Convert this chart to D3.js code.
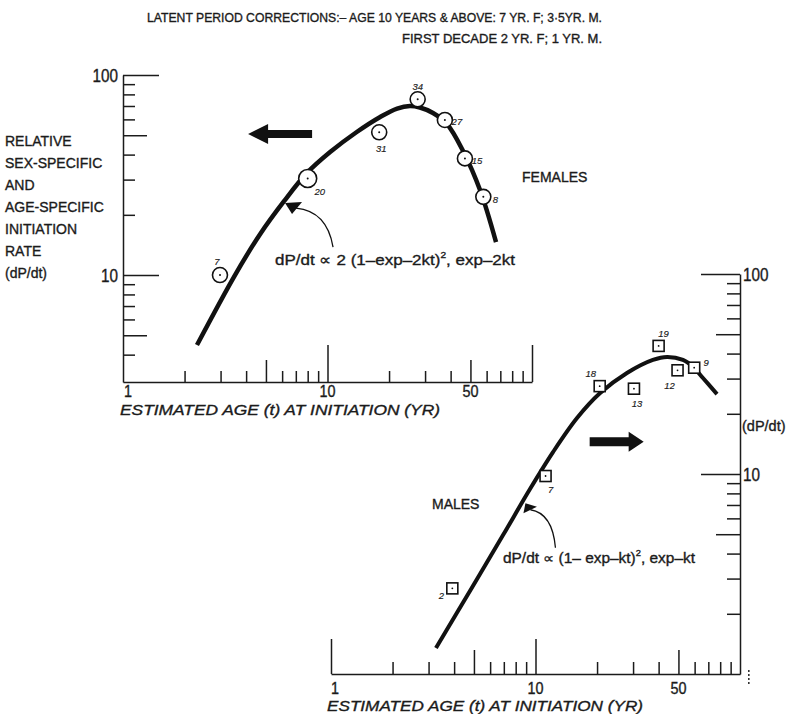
<!DOCTYPE html>
<meta charset="utf-8">
<script src="https://d3js.org/d3.v7.min.js"></script>
<style>
  body { margin: 0; background: #fff; }
  text { font-family: "Liberation Sans", Arial, sans-serif; fill: #1b1b1b; stroke: #1b1b1b; stroke-width: 0.35px; }
</style>
<div id="chart"></div>
<script>

// ---- data ----
// females (circles), number beside each circle = cases
var femaleAge  = [2.98, 8.0, 17.9, 27.6, 37.5, 47.0, 57.8];
var femaleRate = [10.0, 30.4, 51.7, 75.6, 59.6, 38.3, 24.6];
var femaleN    = [7, 20, 31, 34, 27, 15, 8];
// fitted female curve, traced
var femaleCurveAge  = [2.30, 3.53, 4.68, 6.13, 7.94, 10.3, 13.9, 18.1, 21.9, 25.3, 28.3, 32.8, 38.4, 46.0, 55.7, 66.7];
var femaleCurveRate = [4.47, 10.0, 16.0, 23.4, 32.4, 41.2, 51.9, 61.7, 68.0, 70.0, 68.8, 64.6, 56.9, 41.7, 26.6, 14.6];

// males (squares)
var maleAge  = [3.92, 11.2, 20.6, 30.3, 40.0, 49.5, 59.7];
var maleRate = [2.68, 9.77, 27.5, 26.7, 43.7, 33.0, 34.0];
var maleN    = [2, 7, 18, 13, 19, 12, 9];
var maleCurveAge  = [3.26, 4.78, 6.94, 9.40, 12.2, 15.96, 20.7, 28.0, 37.5, 44.0, 52.6, 58.9, 65.9, 77.2];
var maleCurveRate = [1.35, 2.60, 4.95, 8.41, 12.9, 19.05, 25.4, 32.0, 37.2, 38.5, 37.2, 34.4, 30.2, 25.1];

// log tick values
var xTickVals = [2, 3, 4, 5, 6, 7, 8, 9, 10, 20, 30, 40, 50, 60, 70, 80, 90, 100];
var yTickValsF = [4, 5, 6, 7, 8, 9, 10, 20, 30, 40, 50, 60, 70, 80, 90, 100];
var yTickValsM = [2, 3, 4, 5, 6, 7, 8, 9, 10, 20, 30, 40, 50, 60, 70, 80, 90, 100];
var xLabels = ["1", "10", "50"];
var yLabels = ["10", "100"];

// where the small case numbers sit relative to each marker
var femaleLabelDx = [-3, 12, 2, 0, 12, 12, 12];
var femaleLabelDy = [-13, 14, 17, -12, 2, 3, 3];
var maleLabelDx = [-11, 5, -9, 3, 5, -8, 12];
var maleLabelDy = [8, 14, -12, 15, -12, 16, -5];

var W = 793, H = 714;
var svg = d3.select("#chart").append("svg")
  .attr("width", W).attr("height", H);

// title
svg.append("text").attr("x", 147).attr("y", 22)
  .attr("font-size", 13).attr("textLength", 455).attr("lengthAdjust", "spacingAndGlyphs")
  .text("LATENT PERIOD CORRECTIONS:\u2013 AGE 10 YEARS & ABOVE: 7 YR. F; 3\u00b75YR. M.");
svg.append("text").attr("x", 402).attr("y", 43)
  .attr("font-size", 13).attr("textLength", 200).attr("lengthAdjust", "spacingAndGlyphs")
  .text("FIRST DECADE  2 YR. F; 1 YR. M.");

// ---- scales ----
var xF = d3.scaleLog().domain([1, 100]).range([123, 532]);
var yF = d3.scaleLog().domain([2.92, 100]).range([382, 75]);
var xM = d3.scaleLog().domain([1, 100]).range([331, 740]);
var yM = d3.scaleLog().domain([1, 100]).range([674, 274]);

function tickLen(v, big, mid, small) {
  var l = Math.log10(v);
  if (Math.abs(l - Math.round(l)) < 1e-6) return big;
  if (v === 5 || v === 50) return mid;
  return small;
}

function styleAxis(g) {
  g.selectAll("path.domain").attr("stroke", "#1b1b1b").attr("stroke-width", 1.5);
  g.selectAll(".tick line").attr("stroke", "#1b1b1b").attr("stroke-width", 1.5);
  g.selectAll(".tick text").remove();
}

// ---- female panel ----
var gyF = svg.append("g").attr("transform", "translate(" + xF(1) + ",0)")
  .call(d3.axisRight(yF).tickValues(yTickValsF).tickSizeOuter(0).tickFormat(""));
styleAxis(gyF);
gyF.selectAll(".tick line").attr("x2", function(d) { return tickLen(d, 36, 24, 12); });

var gxF = svg.append("g").attr("transform", "translate(0," + yF(2.92) + ")")
  .call(d3.axisTop(xF).tickValues(xTickVals).tickSizeOuter(0).tickFormat(""));
styleAxis(gxF);
gxF.selectAll(".tick line").attr("y2", function(d) { return -tickLen(d, 37, 22, 11); });

svg.selectAll(".ylabF").data(yLabels).enter().append("text")
  .attr("x", xF(1) - 5).attr("y", function(d) { return yF(+d) + 7; })
  .attr("text-anchor", "end").attr("font-size", 18).attr("textLength", function(d) { return d.length * 8.5; })
  .attr("lengthAdjust", "spacingAndGlyphs")
  .text(function(d) { return d; });

svg.selectAll(".xlabF").data(xLabels).enter().append("text")
  .attr("x", function(d) { return d === "1" ? xF(1) + 1 : xF(+d); })
  .attr("y", 397)
  .attr("text-anchor", function(d) { return d === "1" ? "start" : "middle"; })
  .attr("font-size", 16).attr("textLength", function(d) { return d.length * 8; })
  .attr("lengthAdjust", "spacingAndGlyphs")
  .text(function(d) { return d; });

svg.append("text").attr("x", 120).attr("y", 415)
  .attr("font-size", 15).attr("font-style", "italic")
  .attr("textLength", 320).attr("lengthAdjust", "spacingAndGlyphs")
  .text("ESTIMATED AGE (t) AT INITIATION (YR)");

// left y title
var yTitle = ["RELATIVE", "SEX-SPECIFIC", "AND", "AGE-SPECIFIC", "INITIATION", "RATE", "(dP/dt)"];
svg.selectAll(".ytitle").data(yTitle).enter().append("text")
  .attr("x", 5).attr("y", function(d, i) { return 146 + i * 22; })
  .attr("font-size", 14)
  .text(function(d) { return d; });

svg.append("text").attr("x", 522).attr("y", 182).attr("font-size", 14).text("FEMALES");

var line = d3.line().curve(d3.curveCatmullRom.alpha(0.5));

svg.append("path")
  .attr("d", line(femaleCurveAge.map(function(a, i) { return [xF(a), yF(femaleCurveRate[i])]; })))
  .attr("fill", "none").attr("stroke", "#111").attr("stroke-width", 4.5);

var fPts = svg.selectAll(".fpt").data(femaleAge).enter().append("g")
  .attr("transform", function(d, i) { return "translate(" + xF(d) + "," + yF(femaleRate[i]) + ")"; });
fPts.append("circle").attr("r", function(d, i) { return femaleN[i] === 20 ? 9 : 7.5; })
  .attr("fill", "#fff").attr("stroke", "#111").attr("stroke-width", 1.6);
fPts.append("circle").attr("r", 1).attr("fill", "#111");
fPts.append("text")
  .attr("x", function(d, i) { return femaleLabelDx[i]; })
  .attr("y", function(d, i) { return femaleLabelDy[i] + 3; })
  .attr("text-anchor", "middle").attr("font-size", 9.5).attr("font-style", "italic")
  .style("stroke-width", "0.15px")
  .text(function(d, i) { return femaleN[i]; });

// female block arrow (pointing left)
var fa = [xF(4.09), yF(50.7)];
svg.append("path")
  .attr("d", "M" + fa[0] + "," + fa[1] + "l20,-10v6h44v8h-44v6z")
  .attr("fill", "#111");

// female curved pointer + formula
var ft = [xF(6.2), yF(22.9)];
svg.append("path")
  .attr("d", "M" + ft[0] + "," + ft[1] + "l7,11l10,-12z").attr("fill", "#111");
svg.append("path")
  .attr("d", "M" + (ft[0] + 11) + "," + (ft[1] + 5) + "q31,3 37,39")
  .attr("fill", "none").attr("stroke", "#111").attr("stroke-width", 1.3);

var ff = svg.append("text").attr("x", 275).attr("y", 265).attr("font-size", 15)
  .attr("textLength", 240).attr("lengthAdjust", "spacingAndGlyphs");
ff.append("tspan").text("dP/dt \u221d 2 (1\u2013exp\u20132kt)");
ff.append("tspan").attr("dy", -7).attr("font-size", 9).text("2");
ff.append("tspan").attr("dy", 7).text(", exp\u20132kt");

// ---- male panel ----
var gyM = svg.append("g").attr("transform", "translate(" + xM(100) + ",0)")
  .call(d3.axisLeft(yM).tickValues(yTickValsM).tickSizeOuter(0).tickFormat(""));
styleAxis(gyM);
gyM.selectAll(".tick line").attr("x2", function(d) { return -tickLen(d, 39, 24, 13); });

var gxM = svg.append("g").attr("transform", "translate(0," + yM(1) + ")")
  .call(d3.axisTop(xM).tickValues([1].concat(xTickVals.slice(0, -1))).tickSizeOuter(0).tickFormat(""));
styleAxis(gxM);
gxM.selectAll(".tick line").attr("y2", function(d) { return -tickLen(d, 35, 24, 12); });

// little dotted mark at the corner
svg.selectAll(".dot").data([0, 1, 2, 3]).enter().append("rect")
  .attr("x", xM(100) + 8).attr("y", function(d) { return yM(1) - 4 + d * 4; })
  .attr("width", 1.6).attr("height", 2).attr("fill", "#333");

svg.selectAll(".ylabM").data(yLabels).enter().append("text")
  .attr("x", xM(100) + 3).attr("y", function(d) { return yM(+d) + 7; })
  .attr("font-size", 18).attr("textLength", function(d) { return d.length * 8.5; })
  .attr("lengthAdjust", "spacingAndGlyphs")
  .text(function(d) { return d; });

svg.append("text").attr("x", xM(100) + 2).attr("y", 431).attr("font-size", 14.5).text("(dP/dt)");

svg.selectAll(".xlabM").data(xLabels).enter().append("text")
  .attr("x", function(d) { return d === "1" ? xM(1) : xM(+d); })
  .attr("y", 694)
  .attr("text-anchor", function(d) { return d === "1" ? "start" : "middle"; })
  .attr("font-size", 16).attr("textLength", function(d) { return d.length * 8; })
  .attr("lengthAdjust", "spacingAndGlyphs")
  .text(function(d) { return d; });

svg.append("text").attr("x", 327).attr("y", 711)
  .attr("font-size", 15).attr("font-style", "italic")
  .attr("textLength", 316).attr("lengthAdjust", "spacingAndGlyphs")
  .text("ESTIMATED AGE (t) AT INITIATION (YR)");

svg.append("text").attr("x", 432).attr("y", 509).attr("font-size", 14).text("MALES");

svg.append("path")
  .attr("d", line(maleCurveAge.map(function(a, i) { return [xM(a), yM(maleCurveRate[i])]; })))
  .attr("fill", "none").attr("stroke", "#111").attr("stroke-width", 4);

var mPts = svg.selectAll(".mpt").data(maleAge).enter().append("g")
  .attr("transform", function(d, i) { return "translate(" + xM(d) + "," + yM(maleRate[i]) + ")"; });
mPts.append("rect").attr("x", -5.5).attr("y", -5.5).attr("width", 11).attr("height", 11)
  .attr("fill", "#fff").attr("stroke", "#111").attr("stroke-width", 1.6);
mPts.append("circle").attr("r", 0.9).attr("fill", "#111");
mPts.append("text")
  .attr("x", function(d, i) { return maleLabelDx[i]; })
  .attr("y", function(d, i) { return maleLabelDy[i] + 3; })
  .attr("text-anchor", "middle").attr("font-size", 9.5).attr("font-style", "italic")
  .style("stroke-width", "0.15px")
  .text(function(d, i) { return maleN[i]; });

// male block arrow (pointing right)
var ma = [xM(33.8), yM(14.5)];
svg.append("path")
  .attr("d", "M" + ma[0] + "," + ma[1] + "l-15,-10v5.5h-39v9h39v5.5z")
  .attr("fill", "#111");

// male curved pointer + formula
var mt = [xM(8.93), yM(7.14)];
svg.append("path")
  .attr("d", "M" + mt[0] + "," + mt[1] + "l-2,10l13.5,-6.5z").attr("fill", "#111");
svg.append("path")
  .attr("d", "M" + (mt[0] + 5) + "," + (mt[1] + 6.5) + "q22,3.5 25,38")
  .attr("fill", "none").attr("stroke", "#111").attr("stroke-width", 1.3);

var mf = svg.append("text").attr("x", 503).attr("y", 563).attr("font-size", 14)
  .attr("textLength", 192).attr("lengthAdjust", "spacingAndGlyphs");
mf.append("tspan").text("dP/dt \u221d (1\u2013 exp\u2013kt)");
mf.append("tspan").attr("dy", -7).attr("font-size", 8.5).text("2");
mf.append("tspan").attr("dy", 7).text(", exp\u2013kt");

</script>
